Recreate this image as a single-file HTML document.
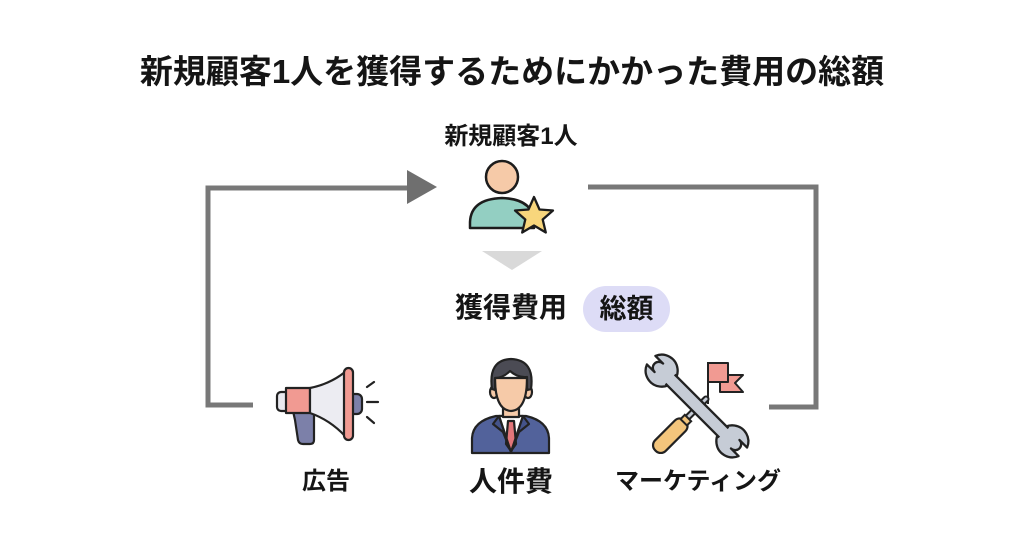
<!DOCTYPE html>
<html><head><meta charset="utf-8">
<style>
html,body{margin:0;padding:0;background:#fff;}
body{width:1024px;height:559px;position:relative;overflow:hidden;font-family:"Liberation Sans","Noto Sans CJK JP",sans-serif;color:#151515;}
.t{position:absolute;font-weight:700;white-space:nowrap;text-align:center;}
svg{position:absolute;left:0;top:0;}
</style></head><body>
<svg width="1024" height="559" viewBox="0 0 1024 559">
  <!-- connectors -->
  <path d="M253,405 L208,405 L208,188 L410,188" fill="none" stroke="#787878" stroke-width="5"/>
  <polygon points="407,170 437,187 407,204" fill="#6f6f6f"/>
  <path d="M588,187 L816,187 L816,407 L769,407" fill="none" stroke="#787878" stroke-width="5"/>

  <!-- person with star -->
  <path d="M470,228 L470,222 Q471,199 502,198 Q533,199 534,222 L534,228 Z" fill="#93cfc2" stroke="#1c1c1c" stroke-width="2.5" stroke-linejoin="round"/>
  <circle cx="502" cy="177" r="16" fill="#f6caa8" stroke="#1c1c1c" stroke-width="2.5"/>
  <polygon points="534,197 539.5,209.5 553,210.5 542.7,219.5 545.8,232.5 534,225.5 522.2,232.5 525.3,219.5 515,210.5 528.5,209.5" fill="#f8d67c" stroke="#1c1c1c" stroke-width="2.3" stroke-linejoin="round"/>
  <polygon points="482,251 542,251 512,270" fill="#d9d9d9"/>

  <!-- megaphone -->
  <g stroke="#222" stroke-width="2.2" stroke-linejoin="round" stroke-linecap="round">
    <path d="M293,411 L314,411 L314,440 Q314,444 310,444 L303,444 Q299,444 298,440 L295,420 Z" fill="#7c80a9"/>
    <rect x="277" y="392" width="12" height="19" rx="4" fill="#e9e9ef"/>
    <rect x="286" y="388" width="24" height="25" fill="#f19a92"/>
    <path d="M310,388 Q330,384 345,372 L345,436 Q330,420 310,413 Z" fill="#ececf2"/>
    <rect x="349" y="394" width="13" height="20" rx="5" fill="#7c80a9"/>
    <rect x="344" y="368" width="9" height="72" rx="4.5" fill="#f19a92"/>
    <line x1="367" y1="387" x2="374" y2="382" fill="none"/>
    <line x1="367" y1="402" x2="378" y2="402" fill="none"/>
    <line x1="367" y1="417" x2="374" y2="423" fill="none"/>
  </g>

  <!-- businessman -->
  <g stroke="#222" stroke-width="2.2" stroke-linejoin="round">
    <path d="M472,453 L472,438 Q473,421 496,416 L526,416 Q548,421 549,438 L549,453 Z" fill="#52629b"/>
    <polygon points="499,416 523,416 511,452" fill="#ffffff"/>
    <polygon points="508,421 514,421 516,444 511,451 506,444" fill="#e2767a"/>
    <path d="M499,416 L493,424 L503,432 L511,452 Z" fill="#44538a"/>
    <path d="M523,416 L529,424 L519,432 L511,452 Z" fill="#44538a"/>
    <rect x="503" y="403" width="16" height="14" fill="#f6caa8"/>
    <ellipse cx="494" cy="392" rx="4" ry="6" fill="#f6caa8"/>
    <ellipse cx="528" cy="392" rx="4" ry="6" fill="#f6caa8"/>
    <path d="M495,378 Q495,410 511,411 Q527,410 527,378 Z" fill="#f6caa8"/>
    <path d="M492,389 Q488,360 511,359 Q535,360 531,389 L527,390 L527,377 Q518,378 510,371 Q503,378 495,378 L495,390 Z" fill="#4b4b54"/>
  </g>

  <!-- flags -->
  <g stroke="#222" stroke-width="2" stroke-linejoin="round">
    <polygon points="720,375 743,375 735,383 743,392 720,392" fill="#f19a92"/>
    <rect x="708" y="363" width="20" height="19" fill="#f19a92"/>
    <line x1="708" y1="362" x2="708" y2="404"/>
  </g>
  <!-- screwdriver shaft -->
  <line x1="684" y1="421" x2="706" y2="399" stroke="#222" stroke-width="7" stroke-linecap="round"/>
  <line x1="684" y1="421" x2="706" y2="399" stroke="#c6ccd6" stroke-width="3" stroke-linecap="round"/>
  <!-- wrench -->
  <g transform="translate(697,406) rotate(45)">
    <path d="M-64.83,-6 A16,16 0 1 1 -64.83,6 L-54,6 A6,6 0 0 1 -54,-6 Z" fill="#c6ccd6" stroke="#222" stroke-width="2.3" stroke-linejoin="round"/>
    <path d="M64.83,6 A16,16 0 1 1 64.83,-6 L54,-6 A6,6 0 0 1 54,6 Z" fill="#c6ccd6" stroke="#222" stroke-width="2.3" stroke-linejoin="round"/>
    <rect x="-42" y="-6.5" width="84" height="13" fill="#c6ccd6"/>
    <line x1="-38" y1="-6.5" x2="38" y2="-6.5" stroke="#222" stroke-width="2.3"/>
    <line x1="-38" y1="6.5" x2="38" y2="6.5" stroke="#222" stroke-width="2.3"/>
  </g>
  <!-- screwdriver handle -->
  <g transform="translate(671,435) rotate(-45)">
    <rect x="-22" y="-7.5" width="42" height="15" rx="7" fill="#f3c57c" stroke="#222" stroke-width="2.2"/>
    <rect x="18" y="-4.5" width="6" height="9" fill="#f3c57c" stroke="#222" stroke-width="2"/>
  </g>
</svg>

<div class="t" style="left:0;width:1024px;top:55px;font-size:33px;line-height:33px;">新規顧客1人を獲得するためにかかった費用の総額</div>
<div class="t" style="left:411px;width:200px;top:125px;font-size:24px;line-height:24px;">新規顧客1人</div>
<div class="t" style="left:453px;width:116px;top:294px;font-size:28px;line-height:28px;">獲得費用</div>
<div class="t" style="left:583px;top:286px;width:87px;height:46px;border-radius:23px;background:#dddcf6;font-size:27px;line-height:46px;">総額</div>
<div class="t" style="left:276px;width:100px;top:470px;font-size:24px;line-height:24px;">広告</div>
<div class="t" style="left:451px;width:120px;top:468px;font-size:28px;line-height:28px;">人件費</div>
<div class="t" style="left:598px;width:200px;top:470px;font-size:24px;line-height:24px;">マーケティング</div>
</body></html>
